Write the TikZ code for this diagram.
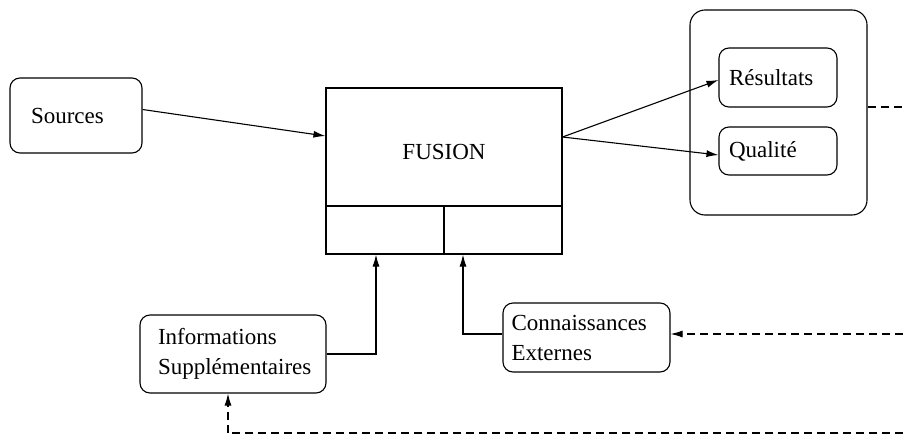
\documentclass[tikz,border=0pt]{standalone}
\usepackage{fontspec}
\setmainfont{Liberation Serif}
\usetikzlibrary{arrows.meta}
\begin{document}
\begin{tikzpicture}[x=1pt,y=-1pt,
  every node/.style={font=\fontsize{23}{30}\selectfont},
  rbox/.style={draw,line width=1.1pt,rounded corners=10pt,align=left,inner xsep=0pt,inner ysep=0pt},
  sqbox/.style={draw,line width=1.1pt,inner sep=0pt},
  arr/.style={line width=1.1pt,-{Latex[length=12pt,width=7pt]}},
  dsh/.style={line width=1.1pt,dash pattern=on 8pt off 5pt}]
\useasboundingbox (0,0) rectangle (903,434);
% boxes
\node[rbox,minimum width=132pt,minimum height=75pt,text width=90pt] (sources) at (76,115.5) {Sources};
\node[sqbox,minimum width=236pt,minimum height=118pt,text height=26pt] (fusion) at (444,147) {FUSION};
\node[sqbox,minimum width=118pt,minimum height=48pt] (cellA) at (385,230) {};
\node[sqbox,minimum width=118pt,minimum height=48pt] (cellB) at (503,230) {};
\node[rbox,rounded corners=15pt,minimum width=177pt,minimum height=205pt] (cont) at (778.5,112.5) {};
\node[rbox,minimum width=118pt,minimum height=59pt,text width=98pt] (res) at (778,77.5) {Résultats};
\node[rbox,minimum width=118pt,minimum height=48pt,text width=98pt] (qual) at (778,151) {Qualité};
\node[rbox,minimum width=186pt,minimum height=78pt,text width=150pt] (info) at (233,354) {Informations\\Supplémentaires};
\node[rbox,minimum width=167pt,minimum height=69pt,text width=150pt] (conn) at (586.5,337.5) {Connaissances\\Externes};
% free ends
\coordinate (e1) at (903,107);
\coordinate (e2) at (903,334);
\coordinate (e3) at (903,433);
\coordinate (c3) at (228,433);
% connectors
\draw[arr] ([yshift=6pt]sources.east) -- ([yshift=11pt]fusion.west);
\draw[arr] ([yshift=10pt]fusion.east) -- ([yshift=-2.5pt]res.west);
\draw[arr] ([yshift=10pt]fusion.east) -- ([yshift=-4pt]qual.west);
\draw[arr] (info.east) -| ([xshift=-9pt]cellA.south);
\draw[arr] ([yshift=3.5pt]conn.west) -| ([xshift=-40pt]cellB.south);
\draw[dsh] (cont.east |- e1) -- (e1);
\draw[dsh,arr] (e2) -- (conn.east |- e2);
\draw[dsh] (e3) -- (c3);
\draw[dsh,arr] (c3) -- (c3 |- info.south);
\end{tikzpicture}
\end{document}
